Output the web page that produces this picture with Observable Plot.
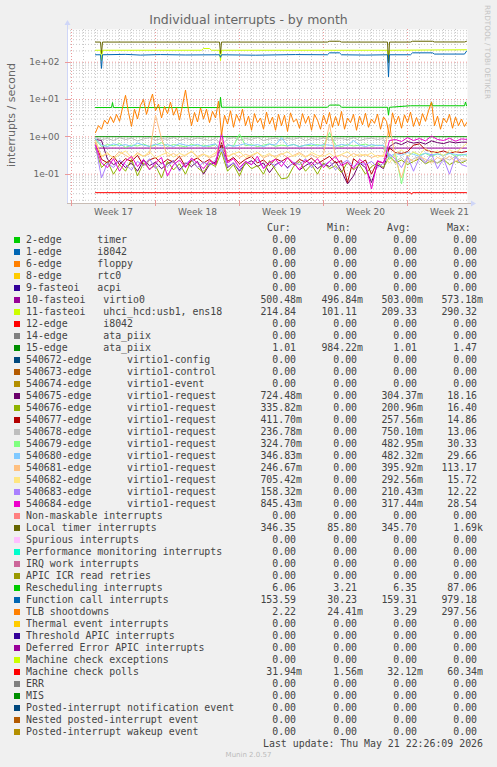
<!DOCTYPE html>
<html><head><meta charset="utf-8">
<script src="https://cdn.jsdelivr.net/npm/d3@7"></script>
<script src="https://cdn.jsdelivr.net/npm/@observablehq/plot@0.6"></script>
<style>
body{margin:0;background:#f0f0f0;}
#wrap{position:relative;width:497px;height:767px;background:#f0f0f0;overflow:hidden;font-family:"DejaVu Sans",sans-serif;}
#wrap svg{position:absolute;left:0;top:0;}
.abs{position:absolute;white-space:pre;}
.mono{font-family:"DejaVu Sans Mono",monospace;font-size:9.9px;color:#444;line-height:12px;}
</style></head><body><div id="wrap"></div>
<script>
// ---------------- DATA ----------------
const title = "Individual interrupts - by month";
const yLabel = "interrupts / second";
const sideText = "RRDTOOL / TOBI OETIKER";
const lastUpdate = "Last update: Thu May 21 22:26:09 2026";
const version = "Munin 2.0.57";

const weekLabels = ["Week 17", "Week 18", "Week 19", "Week 20", "Week 21"];
const weekStarts = ["2026-04-19", "2026-04-26", "2026-05-03", "2026-05-10", "2026-05-17"];
const yTickValues = [0.1, 1, 10, 100];
const yTickLabels = ["1e-01", "1e+00", "1e+01", "1e+02"];
const xDomain = ["2026-04-18T16:00:00Z", "2026-05-22T00:00:00Z"];
const yDomain = [0.0164, 751];
const seriesStart = "2026-04-21T00:00:00Z";

const labels = [
  "2-edge      timer", "1-edge      i8042", "6-edge      floppy", "8-edge      rtc0",
  "9-fasteoi   acpi", "10-fasteoi   virtio0", "11-fasteoi   uhci_hcd:usb1, ens18",
  "12-edge      i8042", "14-edge      ata_piix", "15-edge      ata_piix",
  "540672-edge      virtio1-config", "540673-edge      virtio1-control", "540674-edge      virtio1-event",
  "540675-edge      virtio1-request", "540676-edge      virtio1-request", "540677-edge      virtio1-request",
  "540678-edge      virtio1-request", "540679-edge      virtio1-request", "540680-edge      virtio1-request",
  "540681-edge      virtio1-request", "540682-edge      virtio1-request", "540683-edge      virtio1-request",
  "540684-edge      virtio1-request",
  "Non-maskable interrupts", "Local timer interrupts", "Spurious interrupts",
  "Performance monitoring interrupts", "IRQ work interrupts", "APIC ICR read retries",
  "Rescheduling interrupts", "Function call interrupts", "TLB shootdowns",
  "Thermal event interrupts", "Threshold APIC interrupts", "Deferred Error APIC interrupts",
  "Machine check exceptions", "Machine check polls", "ERR", "MIS",
  "Posted-interrupt notification event", "Nested posted-interrupt event", "Posted-interrupt wakeup event"
];
const colors = [
  "#00CC00", "#0066B3", "#FF8000", "#FFCC00", "#330099", "#990099", "#CCFF00", "#FF0000",
  "#808080", "#008F00", "#00487D", "#B35A00", "#B38F00", "#6B006B", "#8FB300", "#B30000",
  "#BEBEBE", "#80FF80", "#80C9FF", "#FFC080", "#FFE680", "#AA80FF", "#EE00CC", "#FF8080",
  "#666600", "#FFBFFF", "#00FFCC", "#CC6699", "#999900", "#00CC00", "#0066B3", "#FF8000",
  "#FFCC00", "#330099", "#990099", "#CCFF00", "#FF0000", "#808080", "#008F00", "#00487D",
  "#B35A00", "#B38F00"
];
const statHeaders = ["Cur:", "Min:", "Avg:", "Max:"];
const curVals = ["0.00","0.00","0.00","0.00","0.00","500.48m","214.84","0.00","0.00","1.01",
  "0.00","0.00","0.00","724.48m","335.82m","411.70m","236.78m","324.70m","346.83m","246.67m",
  "705.42m","158.32m","845.43m","0.00","346.35","0.00","0.00","0.00","0.00","6.06",
  "153.59","2.22","0.00","0.00","0.00","0.00","31.94m","0.00","0.00","0.00","0.00","0.00"];
const minVals = ["0.00","0.00","0.00","0.00","0.00","496.84m","101.11","0.00","0.00","984.22m",
  "0.00","0.00","0.00","0.00","0.00","0.00","0.00","0.00","0.00","0.00",
  "0.00","0.00","0.00","0.00","85.80","0.00","0.00","0.00","0.00","3.21",
  "30.23","24.41m","0.00","0.00","0.00","0.00","1.56m","0.00","0.00","0.00","0.00","0.00"];
const avgVals = ["0.00","0.00","0.00","0.00","0.00","503.00m","209.33","0.00","0.00","1.01",
  "0.00","0.00","0.00","304.37m","200.96m","257.56m","750.10m","482.95m","482.32m","395.92m",
  "292.56m","210.43m","317.44m","0.00","345.70","0.00","0.00","0.00","0.00","6.35",
  "159.31","3.29","0.00","0.00","0.00","0.00","32.12m","0.00","0.00","0.00","0.00","0.00"];
const maxVals = ["0.00","0.00","0.00","0.00","0.00","573.18m","290.32","0.00","0.00","1.47",
  "0.00","0.00","0.00","18.16","16.40","14.86","13.06","30.33","29.66","113.17",
  "15.72","12.22","28.54","0.00","1.69k","0.00","0.00","0.00","0.00","87.06",
  "979.18","297.56","0.00","0.00","0.00","0.00","60.34m","0.00","0.00","0.00","0.00","0.00"];

// Smooth series: hours since seriesStart + values
const fasteoi10H = [0, 742];
const fasteoi10V = [0.5, 0.5];
const fasteoi11H = [0, 10, 12, 14, 212, 216, 228, 232, 248, 250, 252, 584, 586, 588, 742];
const fasteoi11V = [209, 209, 110, 209, 209, 232, 232, 209, 209, 110, 209, 209, 101, 209, 215];
const edge15H = [0, 742];
const edge15V = [1.01, 1.01];
const localTimerH = [0, 10, 12, 14, 248, 250, 252, 464, 468, 488, 492, 584, 586, 588, 630, 634, 674, 678, 738, 742];
const localTimerV = [346, 346, 170, 346, 346, 170, 346, 346, 364, 364, 346, 346, 95, 346, 346, 364, 364, 348, 348, 362];
const reschedH = [0, 32, 34, 36, 248, 250, 252, 464, 468, 488, 492, 584, 586, 588, 630, 670, 672, 674, 738, 740, 742];
const reschedV = [6.1, 6.1, 8.3, 6.1, 6.1, 11.5, 6.2, 6.2, 7.1, 7.1, 6.2, 6.2, 3.8, 6.2, 6.8, 6.8, 8.5, 6.8, 6.8, 8.6, 6.8];
const funcCallH = [0, 10, 12, 14, 60, 90, 130, 180, 248, 250, 252, 320, 400, 464, 468, 488, 492, 540, 584, 586, 588, 630, 634, 674, 678, 738, 742];
const funcCallV = [158, 158, 68, 158, 162, 155, 160, 156, 158, 135, 158, 154, 160, 158, 178, 178, 158, 155, 158, 40, 158, 158, 178, 178, 165, 165, 197];
const mcPollsH = [0, 630, 632, 634, 742];
const mcPollsV = [0.032, 0.032, 0.029, 0.032, 0.032];

// TLB shootdowns: one value every 6 hours
const tlb = [1.3,2.0,1.6,2.8,2.2,3.5,2.4,4.0,2.6,6.0, 13.0,4.5,1.9,5.5,3.0,7.0,10.0,4.0,8.0,14.0,
  5.0,7.5,3.2,6.5,4.2,8.5,3.8,6.0,2.8,7.0, 18.0,5.0,2.0,4.5,2.5,6.0,3.0,5.5,2.4,4.8,
  3.2,9.0,1.1,3.8,2.2,5.0,1.8,4.0,2.6,5.5, 2.0,3.6,1.5,4.2,2.4,3.2,1.6,4.6,2.2,3.4,
  1.5,4.0,2.0,3.8,1.4,4.4,2.5,3.0,1.7,4.2, 2.3,3.6,1.5,4.0,2.8,1.6,3.8,2.2,4.5,1.8,
  3.5,2.0,4.8,1.6,3.2,2.4,4.0,1.5,3.6,2.1, 4.3,1.8,3.0,2.3,4.1,1.6,3.4,2.6,1.0,4.4,
  2.2,3.6,1.7,3.9,2.4,4.6,1.9,3.3,2.0,4.2, 2.6,5.0,8.5,2.0,3.6,1.6,3.2,2.4,4.0,1.7,
  3.4,2.0,3.0,1.9,2.6];

// virtio1-request series: one value every 12 hours
const v540675 = [0.85,0.8,0.25,0.18,0.22,0.15,0.2,0.12,0.24,0.17,0.21,0.14,0.19,0.23,0.13,0.2,0.16,0.22,0.1,0.18,0.21,0.6,0.15,0.2,0.12,0.19,0.23,0.16,0.2,0.11,0.18,0.22,0.15,0.2,0.13,0.17,0.21,0.14,0.19,0.16,0.22,0.12,0.055,0.09,0.2,0.15,0.06,0.18,0.14,0.55,0.7,0.62,0.75,0.68,0.72,0.64,0.78,0.7,0.66,0.74,0.69,0.72,0.72];
const v540676 = [0.5,0.15,0.22,0.1,0.18,0.12,0.25,0.09,0.2,0.14,0.17,0.08,0.22,0.13,0.19,0.1,0.24,0.15,0.11,0.2,0.16,0.4,0.12,0.18,0.09,0.21,0.14,0.17,0.1,0.23,0.13,0.075,0.08,0.16,0.22,0.12,0.18,0.1,0.2,0.14,0.17,0.11,0.21,0.13,0.18,0.1,0.16,0.2,0.15,0.3,0.2,0.24,0.18,0.22,0.26,0.19,0.23,0.2,0.25,0.18,0.22,0.2,0.24];
const v540677 = [0.7,0.25,0.2,0.3,0.18,0.26,0.22,0.32,0.17,0.24,0.28,0.19,0.25,0.21,0.3,0.16,0.23,0.27,0.2,0.25,0.18,0.7,0.22,0.28,0.19,0.25,0.3,0.2,0.24,0.17,0.26,0.22,0.28,0.18,0.25,0.21,0.27,0.19,0.24,0.3,0.2,0.23,0.06,0.26,0.19,0.24,0.1,0.22,0.2,0.5,0.38,0.36,0.4,0.6,0.65,0.45,0.4,0.38,0.42,0.36,0.4,0.38,0.41];
const v540678 = [0.95,0.85,0.9,0.8,0.95,0.85,0.92,0.78,0.88,0.95,0.82,0.9,0.86,0.96,0.8,0.9,0.84,0.93,0.87,0.8,0.9,0.6,0.88,0.95,0.82,0.9,0.85,0.97,0.8,0.88,0.92,0.83,0.9,0.86,0.95,0.8,0.9,0.85,0.93,0.82,0.88,0.9,0.84,0.95,0.8,0.88,0.92,0.85,0.9,0.3,0.22,0.28,0.2,0.26,0.3,0.22,0.25,0.2,0.28,0.24,0.3,0.22,0.24];
const v540679 = [0.85,0.55,0.62,0.58,0.66,0.52,0.6,0.57,0.64,0.55,0.6,0.7,0.56,0.62,0.58,0.54,0.63,0.57,0.6,0.55,0.62,0.45,0.6,0.57,1.2,0.58,0.62,0.55,0.6,0.65,0.56,0.6,0.57,0.63,0.55,0.6,0.58,0.62,0.56,1.3,0.6,0.55,0.62,0.57,0.6,0.64,0.56,0.6,0.58,0.25,0.35,0.055,0.3,0.38,0.33,0.36,0.3,0.35,0.32,0.37,0.3,0.34,0.32];
const v540680 = [0.9,0.6,0.55,0.65,0.58,0.62,0.55,0.68,0.6,0.56,0.64,0.58,0.62,0.55,0.66,0.6,0.57,0.63,0.55,0.6,0.65,0.4,0.62,0.56,0.6,0.66,0.58,0.62,0.55,0.64,0.6,0.95,0.58,0.62,0.55,0.6,0.65,0.57,0.62,0.6,0.56,0.63,0.58,0.8,0.6,0.55,0.62,0.58,0.6,0.3,0.36,0.32,0.38,0.34,0.3,0.37,0.33,0.35,0.31,0.36,0.34,0.32,0.35];
const v540681 = [0.8,0.3,0.35,0.28,0.4,0.32,0.26,0.38,0.3,0.35,3.8,0.9,0.3,0.36,0.28,0.33,0.4,0.3,0.35,0.27,0.32,0.9,0.3,0.36,0.28,0.34,0.3,0.38,0.27,0.33,0.3,0.36,0.28,0.32,0.38,0.3,0.34,0.27,0.35,2.2,0.3,0.33,0.28,0.36,0.3,0.34,0.28,0.32,0.3,2.2,0.25,0.08,0.28,0.22,0.3,0.25,0.2,0.28,0.24,0.3,0.22,0.26,0.25];
const v540682 = [0.7,0.3,0.38,0.26,0.34,0.42,0.28,0.35,0.3,0.4,0.27,0.33,0.38,0.29,0.36,0.31,0.42,0.27,0.34,0.3,0.37,0.5,0.29,0.35,0.4,0.28,0.33,0.38,0.3,0.36,0.27,0.34,0.4,0.3,0.35,0.28,0.38,0.32,0.3,0.36,0.28,0.34,0.4,0.29,0.35,0.31,0.37,0.28,0.33,0.2,0.35,0.45,0.3,0.4,0.33,0.5,0.36,0.42,0.3,0.45,0.38,0.5,0.7];
const v540683 = [0.6,0.08,0.2,0.15,0.24,0.18,0.13,0.22,0.17,0.26,0.14,0.2,0.16,0.23,0.12,0.19,0.25,0.15,0.21,0.17,0.24,0.5,0.16,0.2,0.13,0.22,0.18,0.25,0.15,0.2,0.17,0.23,0.14,0.21,0.18,0.26,0.15,0.2,0.17,0.22,0.13,0.19,0.24,0.16,0.2,0.18,0.22,0.15,0.2,0.35,0.25,0.15,0.3,0.12,0.28,0.2,0.35,0.14,0.26,0.1,0.3,0.18,0.16];
const v540684 = [0.6,0.2,0.15,0.26,0.12,0.22,0.3,0.16,0.25,0.13,0.2,0.28,0.09,0.18,0.24,0.15,0.27,0.2,0.14,0.23,0.18,1.3,0.2,0.26,0.15,0.22,0.18,0.3,0.14,0.21,0.25,0.16,0.28,0.2,0.13,0.24,0.18,0.26,0.15,0.22,0.3,0.17,0.21,0.14,0.25,0.19,0.04,0.23,0.2,0.8,0.85,0.75,0.95,0.8,0.9,0.78,1.05,0.85,0.8,0.92,0.76,0.88,0.85];

// ---------------- BUILD ----------------
const HOUR = 3600e3;
const t0 = new Date(seriesStart).getTime();
const fromSteps = (vals, stepH) => vals.map((v, i) => ({t: new Date(t0 + i * stepH * HOUR), v}));
const fromBreaks = (hs, vs) => hs.map((h, i) => ({t: new Date(t0 + h * HOUR), v: vs[i]}));

// [legend index, data] in drawing (legend) order
const plotted = [
  [5, fromBreaks(fasteoi10H, fasteoi10V)],
  [6, fromBreaks(fasteoi11H, fasteoi11V)],
  [9, fromBreaks(edge15H, edge15V)],
  [13, fromSteps(v540675, 12)], [14, fromSteps(v540676, 12)], [15, fromSteps(v540677, 12)],
  [16, fromSteps(v540678, 12)], [17, fromSteps(v540679, 12)], [18, fromSteps(v540680, 12)],
  [19, fromSteps(v540681, 12)], [20, fromSteps(v540682, 12)], [21, fromSteps(v540683, 12)],
  [22, fromSteps(v540684, 12)],
  [24, fromBreaks(localTimerH, localTimerV)],
  [29, fromBreaks(reschedH, reschedV)],
  [30, fromBreaks(funcCallH, funcCallV)],
  [31, fromSteps(tlb, 6)],
  [36, fromBreaks(mcPollsH, mcPollsV)]
];

const x0 = new Date(xDomain[0]), x1 = new Date(xDomain[1]);
const weekDates = weekStarts.map(s => new Date(s + "T00:00:00Z"));
const weekCenters = weekDates.map(d => new Date(d.getTime() + 3.5 * 24 * HOUR));
const dayLines = d3.utcDay.range(x0, x1);
const minorY = [], majorY = [];
for (let e = -2; e <= 2; e++) {
  const b = Math.pow(10, e);
  if (b >= yDomain[0] && b <= yDomain[1]) majorY.push(b);
  for (let k = 2; k <= 9; k++) { const v = k * b; if (v >= yDomain[0] && v <= yDomain[1]) minorY.push(v); }
}
const weekLabelOf = d => weekLabels[weekCenters.findIndex(c => +c === +d)];
const yLabelOf = d => yTickLabels[yTickValues.indexOf(d)];

const ML = 67, MR = 30, MT = 29, MB = 17, W = 497, H = 220;
const chart = Plot.plot({
  width: W, height: H,
  marginLeft: ML, marginRight: MR, marginTop: MT, marginBottom: MB,
  style: {background: "transparent", fontFamily: "DejaVu Sans", fontSize: "9px", color: "#666", overflow: "visible"},
  x: {type: "utc", domain: [x0, x1], label: null},
  y: {type: "log", domain: yDomain, label: null},
  marks: [
    Plot.frame({fill: "#ffffff", stroke: "none"}),
    Plot.ruleX(dayLines, {stroke: "#c8c8c8", strokeDasharray: "1,2"}),
    Plot.ruleY(minorY, {stroke: "#c8c8c8", strokeDasharray: "1,2"}),
    Plot.ruleX(weekDates, {stroke: "#eb9a9a", strokeDasharray: "1,2"}),
    Plot.ruleY(majorY, {stroke: "#eb9a9a", strokeDasharray: "1,2"}),
    ...plotted.map(([idx, data]) => Plot.line(data, {x: "t", y: "v", stroke: colors[idx], strokeWidth: 1, clip: true})),
    Plot.axisX({ticks: weekCenters, tickFormat: weekLabelOf, tickSize: 0, tickPadding: 5, fontSize: 9, fill: "#666", label: null}),
    Plot.axisY({ticks: yTickValues, tickFormat: yLabelOf, tickSize: 0, tickPadding: 8, fontSize: 9, fill: "#666", label: null})
  ]
});

const wrap = document.getElementById("wrap");
wrap.appendChild(chart);

// axis lines with arrows (rrdtool style)
const svg = d3.select(chart);
const bottom = H - MB, right = W - MR;
const g = svg.append("g");
g.append("line").attr("x1", ML + 0.5).attr("x2", ML + 0.5).attr("y1", bottom).attr("y2", MT - 5).attr("stroke", "#cfd6f8");
g.append("line").attr("x1", ML).attr("x2", right + 5).attr("y1", bottom + 0.5).attr("y2", bottom + 0.5).attr("stroke", "#c8bcb4");
g.append("path").attr("d", `M${ML - 2.5},${MT - 4}L${ML + 3.5},${MT - 4}L${ML + 0.5},${MT - 9}Z`).attr("fill", "#cfd6f8");
g.append("path").attr("d", `M${right + 4},${bottom - 2.5}L${right + 4},${bottom + 3.5}L${right + 9},${bottom + 0.5}Z`).attr("fill", "#cfd6f8");
// small tick marks
const sx = chart.scale("x"), sy = chart.scale("y");
weekDates.forEach(d => { const xx = Math.round(sx.apply(d)) + 0.5;
  g.append("line").attr("x1", xx).attr("x2", xx).attr("y1", bottom - 2).attr("y2", bottom + 3).attr("stroke", "#eb9a9a"); });
majorY.forEach(v => { const yy = Math.round(sy.apply(v)) + 0.5;
  g.append("line").attr("x1", ML - 2).attr("x2", ML + 3).attr("y1", yy).attr("y2", yy).attr("stroke", "#eb9a9a"); });

// texts
function addDiv(text, css, cls) {
  const d = document.createElement("div");
  d.className = "abs" + (cls ? " " + cls : "");
  d.textContent = text;
  Object.assign(d.style, css);
  wrap.appendChild(d);
  return d;
}
addDiv(title, {left: "0px", width: "497px", textAlign: "center", top: "12px", fontSize: "12.5px", color: "#666", lineHeight: "normal"});
addDiv(yLabel, {left: "11px", top: "115px", fontSize: "11px", color: "#666", transform: "translate(-50%,-50%) rotate(-90deg)", lineHeight: "normal"});
addDiv(sideText, {left: "483px", top: "5px", fontSize: "7.3px", color: "#c4c4c4", writingMode: "vertical-rl", lineHeight: "normal"});

// legend
const rowTop = 234, rowH = 12;
const colStart = [267, 327, 387, 447];
const colEnd = [302, 363, 423, 483];
statHeaders.forEach((h, c) => addDiv(h, {left: colStart[c] + "px", top: (rowTop - rowH) + "px"}, "mono"));
const fmt = s => /[a-z]$/i.test(s) ? s : s + " ";
labels.forEach((lab, i) => {
  const top = rowTop + i * rowH;
  const sw = document.createElement("div");
  Object.assign(sw.style, {position: "absolute", left: "14px", top: (top + 3) + "px", width: "6px", height: "6px", background: colors[i]});
  wrap.appendChild(sw);
  addDiv(lab, {left: "26px", top: top + "px"}, "mono");
  [curVals, minVals, avgVals, maxVals].forEach((arr, c) =>
    addDiv(fmt(arr[i]), {right: (W - colEnd[c]) + "px", top: top + "px", textAlign: "right"}, "mono"));
});
addDiv(lastUpdate, {right: (W - 483) + "px", top: (rowTop + labels.length * rowH) + "px"}, "mono");
addDiv(version, {left: "0px", width: "497px", textAlign: "center", top: "751px", fontSize: "7px", color: "#bbb", lineHeight: "normal"});
</script></body></html>
